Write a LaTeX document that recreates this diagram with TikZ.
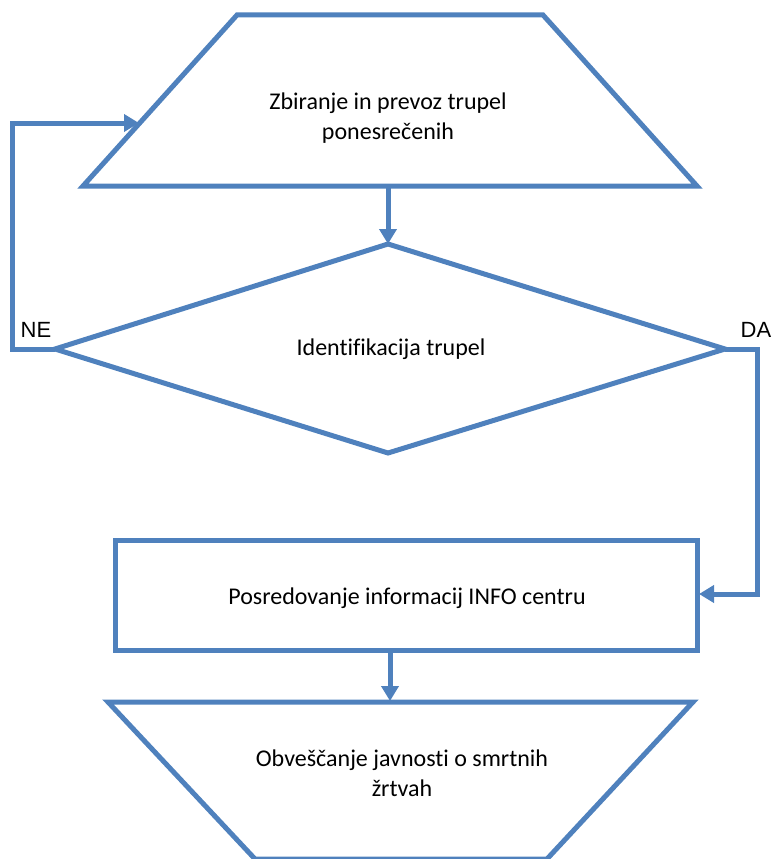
\documentclass[tikz,border=0pt]{standalone}
\usepackage{fontspec}
\setmainfont[Ligatures=NoCommon]{Carlito}
\newfontfamily\arialfont{Liberation Sans}
\usetikzlibrary{arrows.meta}
\definecolor{bl}{RGB}{79,129,189}
\tikzset{
  shapeline/.style={draw=bl, line width=5pt, line join=miter},
  conn/.style={draw=bl, line width=5pt, -{Triangle[length=15pt,width=17pt]}},
  label/.style={font=\fontsize{24}{30}\selectfont, align=center, inner sep=0pt},
  yn/.style={font=\arialfont\fontsize{22}{24}\selectfont, inner sep=0pt}
}
\begin{document}
\begin{tikzpicture}[x=1pt,y=-1pt]
\useasboundingbox (0,0) rectangle (773,859);
% top trapezoid
\coordinate (t1) at (237,15);
\coordinate (t2) at (543,15);
\coordinate (t3) at (697,186);
\coordinate (t4) at (83,186);
\draw[shapeline] (t1) -- (t2) -- (t3) -- (t4) -- cycle;
\node[label] (zbir) at (388,118) {Zbiranje in prevoz trupel\\ponesrečenih};
% diamond
\coordinate (dT) at (388,244);
\coordinate (dR) at (725,349);
\coordinate (dB) at (388,453);
\coordinate (dL) at (55,349);
\draw[shapeline] (dT) -- (dR) -- (dB) -- (dL) -- cycle;
\node[label] (ident) at (391,349) {Identifikacija trupel};
% rectangle
\coordinate (r1) at (115,540);
\coordinate (r2) at (697,650);
\draw[shapeline] (r1) rectangle (r2);
\node[label] (posr) at (407,598) {Posredovanje informacij INFO centru};
% bottom trapezoid
\coordinate (b1) at (108,702);
\coordinate (b2) at (693,702);
\coordinate (b3) at (547,859);
\coordinate (b4) at (255,859);
\draw[shapeline] (b1) -- (b2) -- (b3) -- (b4) -- cycle;
\node[label] (obv) at (402,773) {Obveščanje javnosti o smrtnih\\žrtvah};
% connectors
\coordinate (a1s) at (388,188);
\draw[conn] (a1s) -- (dT);
\coordinate (a2s) at (390,652);
\coordinate (a2e) at (390,701);
\draw[conn] (a2s) -- (a2e);
% NE loop
\coordinate (ne1) at (12,349);
\coordinate (ne2) at (12,123);
\coordinate (ne3) at (139,123);
\draw[conn] (dL) -- (ne1) -- (ne2) -- (ne3);
\node[yn] (ne) at (36,330) {NE};
% DA loop
\coordinate (da1) at (757,349);
\coordinate (da2) at (757,594);
\coordinate (da3) at (699,594);
\draw[conn] (dR) -- (da1) -- (da2) -- (da3);
\node[yn] (da) at (756,330) {DA};
\end{tikzpicture}
\end{document}
